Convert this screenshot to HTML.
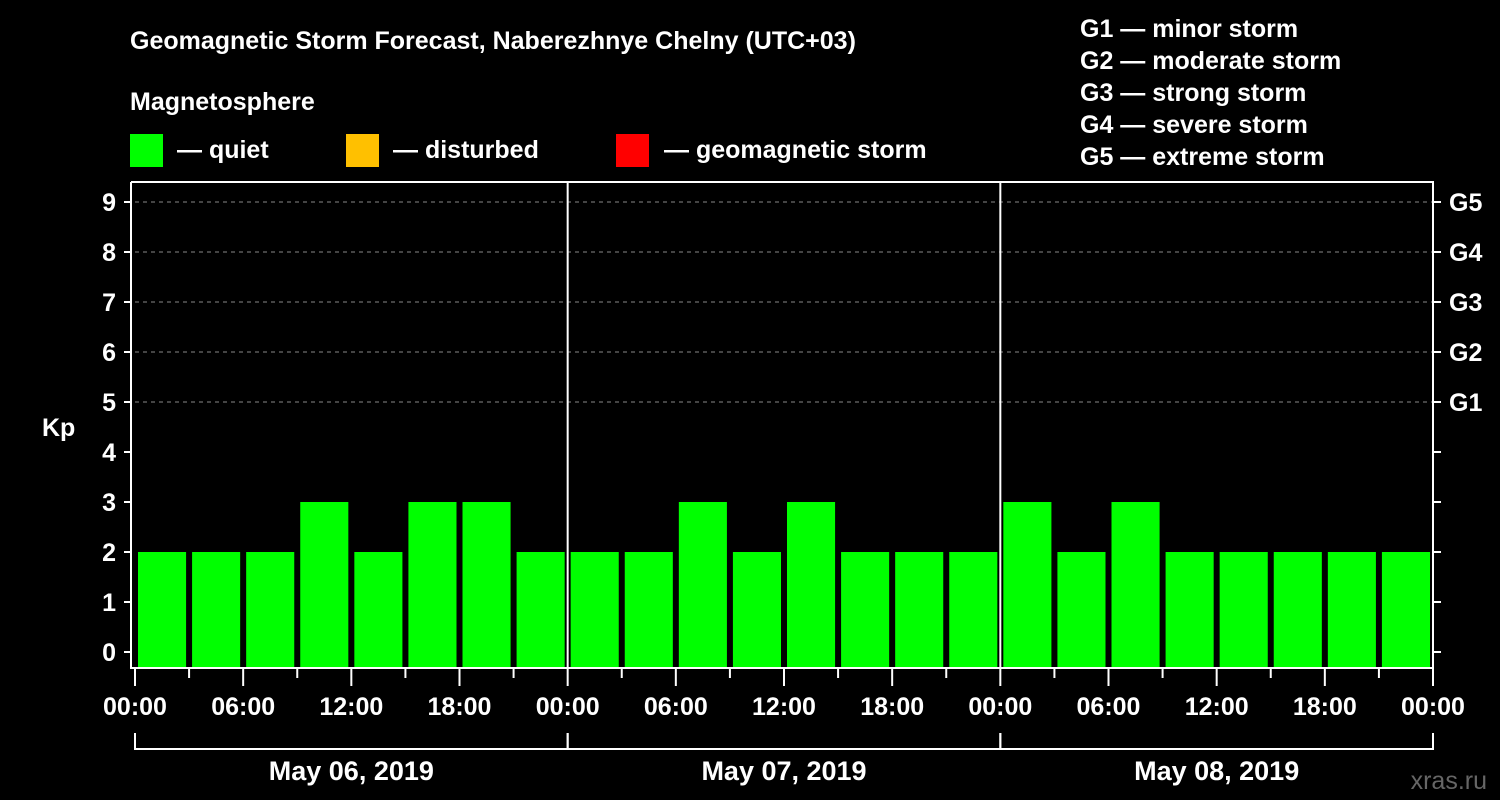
<!DOCTYPE html>
<html><head><meta charset="utf-8"><style>
body{margin:0;background:#000;width:1500px;height:800px;overflow:hidden}
svg{display:block;font-family:"Liberation Sans",Arial,sans-serif;font-weight:bold;fill:#fff}
</style></head><body>
<svg id="c" width="1500" height="800">
<text x="130" y="49" font-size="25">Geomagnetic Storm Forecast, Naberezhnye Chelny (UTC+03)</text>
<text x="130" y="110" font-size="25">Magnetosphere</text>
<rect x="130" y="134" width="33" height="33" fill="#00ff00"/>
<text x="177" y="158" font-size="25">— quiet</text>
<rect x="346" y="134" width="33" height="33" fill="#ffc000"/>
<text x="393" y="158" font-size="25">— disturbed</text>
<rect x="616" y="134" width="33" height="33" fill="#ff0000"/>
<text x="664" y="158" font-size="25">— geomagnetic storm</text>
<g font-size="25">
<text x="1080" y="37">G1 — minor storm</text>
<text x="1080" y="69">G2 — moderate storm</text>
<text x="1080" y="101">G3 — strong storm</text>
<text x="1080" y="133">G4 — severe storm</text>
<text x="1080" y="165">G5 — extreme storm</text>
</g>
<text x="42" y="436" font-size="25">Kp</text>
<text x="1487" y="789" font-size="25" fill="#555" text-anchor="end" font-weight="normal" style="fill:#666">xras.ru</text>
<g id="g"></g>
</svg>
<script>
const days=["May 06, 2019","May 07, 2019","May 08, 2019"];
const kp=[2,2,2,3,2,3,3,2, 2,2,3,2,3,2,2,2, 3,2,3,2,2,2,2,2];
const yTicks=[0,1,2,3,4,5,6,7,8,9];
const gLabels=["G1","G2","G3","G4","G5"];
const hourLabels=["00:00","06:00","12:00","18:00"];
const NS="http://www.w3.org/2000/svg",g=document.getElementById('g');
const X0=135,X1=1433,YT=182,YB=668;
const x=h=>X0+h*(X1-X0)/72;
const y=v=>652-v*50;
function mk(t,a){const e=document.createElementNS(NS,t);for(const k in a)e.setAttribute(k,a[k]);g.appendChild(e);return e;}
yTicks.forEach(v=>{
 if(v>=5){const l=mk('line',{x1:X0,x2:X1,y1:y(v),y2:y(v),stroke:'#888','stroke-dasharray':'4,4'});
 
 }
 mk('line',{x1:124,x2:131,y1:y(v),y2:y(v),stroke:'#fff','stroke-width':2});
 mk('line',{x1:1433,x2:1441,y1:y(v),y2:y(v),stroke:'#fff','stroke-width':2});
 const t=mk('text',{x:116,y:y(v)+9,'font-size':25,'text-anchor':'end'});t.textContent=v;
 
 
});
gLabels.forEach((s,i)=>{const t=mk('text',{x:1449,y:y(5+i)+9,'font-size':25});t.textContent=s;
 
 });
kp.forEach((v,i)=>{
 const r=mk('rect',{x:x(i*3)+3,y:y(v),width:x(3)-x(0)-6,height:YB-1-y(v),fill:v>=5?'#ff0000':v>=4?'#ffc000':'#00ff00'});
 
 
});
mk('path',{d:`M131 ${YT}V${YB}H${X1}V${YT}H131`,stroke:'#fff','stroke-width':2,fill:'none'});
[1,2].forEach(d=>mk('line',{x1:x(d*24),x2:x(d*24),y1:YT,y2:YB,stroke:'#fff','stroke-width':2}));
for(let h=0;h<=72;h+=3){
 const maj=h%6==0;mk('line',{x1:x(h),x2:x(h),y1:YB,y2:maj?686:678,stroke:'#fff','stroke-width':2});
 if(maj&&h%6==0){const t=mk('text',{x:x(h),y:715,'font-size':25,'text-anchor':'middle'});t.textContent=hourLabels[(h/6)%4];
 
 }
}
days.forEach((d,i)=>{
 mk('path',{d:`M${x(i*24)} 733V749H${x(i*24+24)}V733`,stroke:'#fff','stroke-width':2,fill:'none'});
 const t=mk('text',{x:x(i*24+12),y:780,'font-size':27,'text-anchor':'middle'});t.textContent=d;
 
 
});
</script>
</body></html>
